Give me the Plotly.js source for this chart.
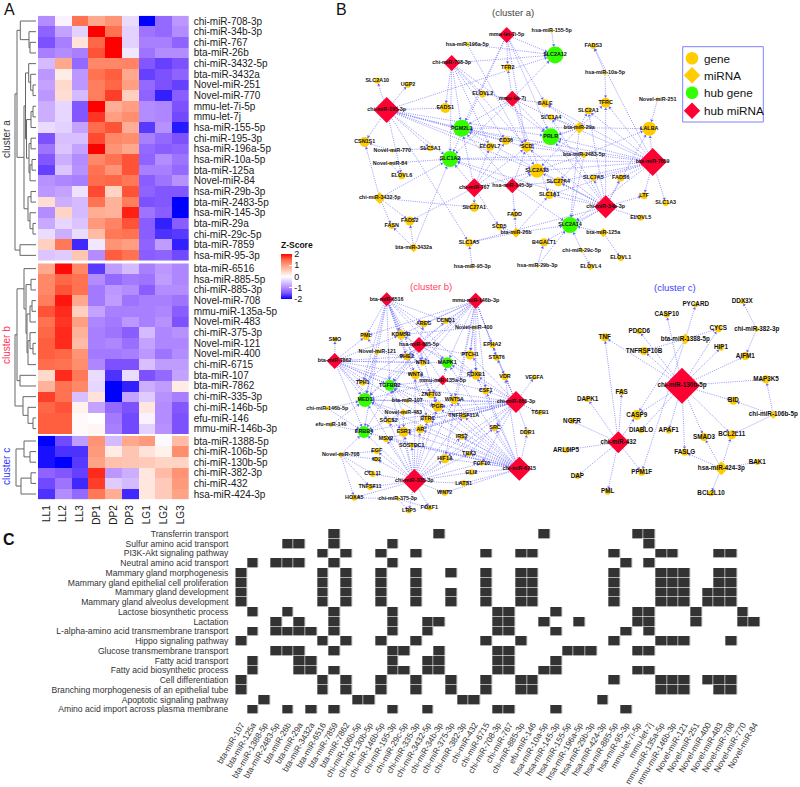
<!DOCTYPE html>
<html><head><meta charset="utf-8">
<script src="https://cdn.plot.ly/plotly-3.0.1.min.js"></script>
<style>html,body{margin:0;padding:0;background:#fff}#c{width:800px;height:787px}</style></head>
<body><div id="c"></div>
<script>
// ---------- Panel A data ----------
const samples=["LL1","LL2","LL3","DP1","DP2","DP3","LG1","LG2","LG3"];
const rowsA=["chi-miR-708-3p","chi-miR-34b-3p","chi-miR-767","bta-miR-26b","chi-miR-3432-5p","bta-miR-3432a","Novel-miR-251","Novel-miR-770","mmu-let-7i-5p","mmu-let-7j","hsa-miR-155-5p","chi-miR-195-3p","hsa-miR-196a-5p","hsa-miR-10a-5p","bta-miR-125a","Novel-miR-84","hsa-miR-29b-3p","bta-miR-2483-5p","hsa-miR-145-3p","bta-miR-29a","chi-miR-29c-5p","bta-miR-7859","hsa-miR-95-3p"];
const valuesA=[
[-1,-.1,1.4,.9,1.1,-.3,-2,-1.3,-.9],[-1.35,-.8,-.4,2,1.4,-.4,-1.2,-1.3,-1],[-1.5,-1.1,.3,1.5,2,-.4,-1.1,-1.1,-1.35],[-1.1,-1,-1.1,1.6,2,-.2,-1.2,-1,-1],
[-.6,.9,-1.3,1.2,1.2,1.25,-1.45,-1.6,-1.5],[-.9,.2,-.9,1.4,1.55,.9,-1.6,-1.5,-1.35],[-.8,.4,-.9,1.3,1.5,1,-1.3,-1.5,-1.6],[-.9,.35,-.6,1.3,1.7,.5,-1.35,-1.8,-1.4],
[-.7,-.35,-1.45,2,.85,1,-1,-1.05,-1.5],[-.7,-.35,-1.45,1.75,1,1.15,-1,-1.05,-1.55],[-.3,-.4,-.8,1.45,1.6,.85,-1.65,-.95,-1.85],[-1.5,-.55,-.55,1.65,1.2,1.15,-1.1,-1.3,-1.5],
[-1.2,-.5,-.8,2,1.1,.9,-1.3,-1.4,-1.35],[-1.45,-.7,-1,1.2,1.4,1.6,-1.35,-1,-1.2],[-1.6,-.5,-.95,1.4,1.1,1.6,-1.1,-1.1,-1.3],[-.95,-1.05,-1.1,1.45,1.5,1.35,-1.4,-1.2,-.95],
[-.9,-.8,-.25,1.65,.45,1.6,-1.35,-1.45,-1.45],[.35,-.7,-.6,1.4,.8,1.3,-1.5,-1.45,-2],[-1,.45,-.6,.85,.8,1.85,-1.2,-1.4,-2],[-.75,-.35,-.5,1.05,1.25,1.6,-1.4,-1.8,-1.4],
[-.3,-.7,-.3,.7,1.35,1.4,-1.4,-1.7,-1.65],[.5,1.35,-1.75,-.2,1.1,1,-1.35,-.85,-1.8],[-.5,-.45,.6,-1,1.55,1.4,-1.4,-1.35,-1.55]];
const rowsB=["bta-miR-6516","hsa-miR-885-5p","chi-miR-885-3p","Novel-miR-708","mmu-miR-135a-5p","Novel-miR-483","chi-miR-375-3p","Novel-miR-121","Novel-miR-400","chi-miR-6715","bta-miR-107","bta-miR-7862","chi-miR-335-3p","chi-miR-146b-5p","efu-miR-146","mmu-miR-146b-3p"];
const valuesB=[
[.9,1.95,1.2,-1.65,-.85,-.6,-1.1,-.9,-1.05],[1.2,1.5,1.4,-1,-1.3,-1.15,-1.2,-.85,-1.05],[1.2,1.6,1.4,-1.15,-.9,-1,-1.4,-1,-1],[1.3,1.9,.9,-1.15,-.85,-1.2,-1.1,-1.1,-1.2],
[1.6,1.8,.5,-.8,-1.1,-1.1,-1.1,-1.05,-1.4],[1.4,1.75,1,-1.05,-1.15,-.9,-1.1,-.95,-1.5],[1.5,1.8,.8,-1.1,-1.2,-1.4,-.6,-1.05,-.95],[1.55,1.8,.7,-1.1,-1.05,-1.25,-.8,-1.05,-1.05],
[1.55,1.5,1.1,-1.15,-1.15,-1.1,-.9,-1.2,-1],[1.45,1.4,1.15,-1.05,-1.5,-1.5,-.55,-.85,-.85],[.4,1.8,1.35,-.3,-1.7,-.3,-1.5,-1.3,-.8],[.8,1.4,1.2,-.35,-2,-1.8,-.7,-.85,.2],
[1.7,1.4,-.55,.3,-2,-.8,-.45,-.95,-1.1],[1.5,1.6,.15,-.8,-1.3,-1.5,.25,-1,-1.45],[1.55,1.55,.05,0,-1.15,-1.55,-.1,-1,-1.5],[1.55,1.55,.05,.1,-1.1,-1.55,-.4,-.95,-1.5]];
const rowsC=["bta-miR-1388-5p","chi-miR-106b-5p","chi-miR-130b-5p","chi-miR-382-3p","chi-miR-432","hsa-miR-424-3p"];
const valuesC=[
[-2,-1.55,-.85,1.1,-.6,.9,1.05,-.05,.7],[-1.9,-1.7,-1.7,1.05,.2,.6,.3,.15,1.15],[-1.9,-2,-1.65,.95,.65,.6,.55,.45,.45],
[-1.35,-1.45,-1.6,1.8,-.9,-.7,.25,.7,1.1],[-1.55,-1.2,-1.75,1.7,-.45,-.6,.25,.55,1.05],[-1.7,-1,-1.3,1.35,.85,-1.75,.25,.55,.95]];
// dendrograms: [height, child, child], a bare number is a heatmap row
const treeA=[15,[17,[20.3,0,[29,1,[30,2,3]]],[24,[25.5,[28.7,4,[30.7,5,[33,6,7]]],[26.5,[31,[33,8,9],10],[29,[31,11,12],[30,[32,13,14],15]]]],[28,[31,16,17],[30,18,[33,19,20]]]]],[20,21,22]];
const treeB=[15,[17,[24,0,[26,[31,1,2],[27,[30,[32,3,4],5],[28,[30,6,[33,7,8]],9]]]],[20,10,11]],[23,12,[28,13,[33,14,15]]]];
const treeC=[16,[24,0,[30,1,2]],[21,[31,3,4],5]];
const zScale=[[0,"#0000ff"],[.125,"#7E51FF"],[.25,"#B38CFF"],[.375,"#DCC5FF"],[.5,"#ffffff"],[.625,"#FFCFBF"],[.75,"#FF9E81"],[.875,"#FF6846"],[1,"#ff0000"]];

// ---------- Panel B data: [name, x, y, radius, role] ----------
const nodesClusterA=[
["chi-miR-195-3p",386.7,110,13,"M"],["chi-miR-708-3p",451.7,63,8,"M"],["mmu-let-7i-5p",506.7,35,8,"M"],["mmu-let-7j",512.3,98.7,8,"M"],["chi-miR-767",474.3,187.7,9.5,"M"],["hsa-miR-145-3p",512.3,185.7,7.5,"M"],["bta-miR-7859",652.7,162,14,"M"],["chi-miR-34b-3p",605.7,206.7,11.5,"M"],
["SLC2A12",555,55,8.5,"G"],["PGM2L1",461.7,128.3,8.5,"G"],["PRLR",550.7,136.7,8.5,"G"],["SLC1A2",450,159,8,"G"],["SLC2A14",570,225,8,"G"],
["FADS3",593.3,46,3,"g"],["TFRC",605.7,102.7,5,"g"],["LALBA",649.3,128.7,7,"g"],["SLC2A1",588.3,110.7,3.5,"g"],["SLC1A3",665.7,203,3,"g"],["SLC7A5",593.3,178,3,"g"],["FADS6",620.7,178,3.5,"g"],["LTF",644,195.7,3.5,"g"],["ELOVL5",640.7,217.7,3,"g"],["ELOVL1",620.7,258,3,"g"],["ELOVL4",590.7,266.7,3,"g"],["TFR2",507.7,67.3,3.5,"g"],["ELOVL2",482.7,94,3.5,"g"],["GALE",545,103.3,4,"g"],["SLC1A4",551,117.3,3,"g"],["FADS1",445.3,108,5,"g"],["SLC2A10",377.3,80.7,3,"g"],["UGP2",408,84.7,3,"g"],["CSN1S1",364.7,142,5,"g"],["SLC5A1",430.3,148.3,3,"g"],["ELOVL7",490,146.7,4,"g"],["CD36",506,140.7,4,"g"],["SCD",526.7,147,5,"g"],["SLC2A13",537,170.7,7,"g"],["SLC27A4",558.3,181.7,4.5,"g"],["SLC1A1",549.3,195,4,"g"],["FADD",514.7,214.3,3,"g"],["SLC27A1",474.3,207.3,4.5,"g"],["SCD5",499.3,226.7,3,"g"],["B4GALT1",544,242.3,4,"g"],["SLC1A5",469,242.7,4,"g"],["FASN",391.7,226,3,"g"],["FADS2",409.7,221,4.5,"g"],["ELOVL6",401.7,175.7,3.5,"g"],
["hsa-miR-155-5p",551.7,31,2,"m"],["hsa-miR-196a-5p",467.3,44.3,2.5,"m"],["hsa-miR-10a-5p",605,72.7,2.5,"m"],["Novel-miR-251",657.7,99.3,2,"m"],["Novel-miR-770",392.3,150.7,2,"m"],["Novel-miR-84",390,163.3,2,"m"],["bta-miR-29a",579.3,127.7,6,"m"],["bta-miR-2483-5p",584,155,3.5,"m"],["chi-miR-3432-5p",379.7,198,6,"m"],["bta-miR-3432a",413.7,247.7,4.5,"m"],["bta-miR-26b",516,232.7,5,"m"],["bta-miR-125a",603.3,232.7,4.5,"m"],["chi-miR-29c-5p",581.7,250.3,2.5,"m"],["hsa-miR-29b-3p",537.3,266,2,"m"],["hsa-miR-95-3p",472.3,266.7,2,"m"]];
const edgesClusterA=[
["chi-miR-195-3p",["SLC2A10","UGP2","FADS1","CSN1S1","SLC2A12","PGM2L1","PRLR","SLC5A1","SLC1A2","ELOVL7","CD36","SCD","SLC2A13","SLC1A5","ELOVL6"]],
["chi-miR-708-3p",["SLC2A12","FADS1","PGM2L1","ELOVL2","SLC1A2","CD36","SCD","ELOVL7","PRLR"]],
["mmu-let-7i-5p",["TFR2","GALE","SLC2A12","PGM2L1","PRLR","SLC1A2","SCD"]],
["mmu-let-7j",["TFR2","SLC2A12","ELOVL2","GALE","SLC1A4","PRLR","SCD","PGM2L1","SLC1A2","SLC1A1"]],
["chi-miR-767",["PGM2L1","SLC1A2","SLC27A1","SCD5","ELOVL7","FADS2","CD36","SCD","SLC2A13"]],
["hsa-miR-145-3p",["SLC1A2","SLC2A13","FADD","SLC2A14","SLC27A4","SCD","PGM2L1"]],
["bta-miR-7859",["LALBA","TFRC","LTF","SLC1A3","FADS6","SLC2A1","SLC7A5","PRLR","GALE","SLC2A13","SLC27A4","SLC1A1","SLC2A14","SLC1A2","FADS3","SCD","PGM2L1","SLC1A4"]],
["chi-miR-34b-3p",["TFRC","LALBA","FADS6","ELOVL5","LTF","SLC7A5","SLC27A4","SLC2A13","PRLR","SLC1A2","SLC2A14","SCD","SLC1A1","PGM2L1","B4GALT1","SLC1A4","SLC2A1","SLC1A5"]],
["hsa-miR-155-5p",["SLC2A12"]],["hsa-miR-196a-5p",["SLC2A12","SLC2A13"]],["hsa-miR-10a-5p",["FADS3","TFRC"]],["Novel-miR-251",["LALBA"]],["Novel-miR-770",["CSN1S1","SLC5A1"]],["Novel-miR-84",["ELOVL6","SLC1A2"]],
["bta-miR-29a",["PRLR","SLC2A1","SLC1A4","GALE","TFRC","LALBA","PGM2L1","SLC2A13","SLC2A14","SCD"]],
["bta-miR-2483-5p",["SLC2A13","PRLR","PGM2L1","SLC1A2","SLC27A4","LALBA","SLC2A14"]],
["chi-miR-3432-5p",["FADS2","FASN","SLC27A1","CSN1S1","SLC1A2"]],["bta-miR-3432a",["FASN","FADS2","SLC1A2"]],
["bta-miR-26b",["SCD5","SLC1A1","SLC2A14","FADD","SLC1A5"]],["bta-miR-125a",["ELOVL1","SLC2A14"]],["chi-miR-29c-5p",["ELOVL4","SLC2A14"]],["hsa-miR-29b-3p",["SLC2A14","B4GALT1"]],["hsa-miR-95-3p",["SLC1A5"]]];

const nodesClusterB=[
["bta-miR-6516",386.7,299.3,7,"M"],["mmu-miR-146b-3p",475.7,300.7,8,"M"],["bta-miR-7862",334.7,361,8,"M"],["hsa-miR-885-5p",419,345,8,"M"],["mmu-miR-135a-5p",442.7,380.3,5,"M"],["chi-miR-885-3p",516,402,11,"M"],["chi-miR-6715",519.3,468.7,12,"M"],["chi-miR-335-3p",414.3,481,12,"M"],
["MAPK1",447.3,362.7,5.5,"G"],["TGFBR2",389.7,385.3,5.5,"G"],["MED1",365,400,7,"G"],["ERBB4",364,432,6,"G"],
["AREG",423.7,323.7,3.5,"g"],["CCND1",445.7,321,3,"g"],["KDM5B",401,334.7,4.5,"g"],["SMO",335,339.3,2.5,"g"],["PML",366,336,4,"g"],["PHB2",406.7,356.7,3.5,"g"],["NTN1",422.7,362.7,3,"g"],["EPHA2",492.3,345,3,"g"],["STAT6",496.7,357.7,3,"g"],["PTCH1",470,355,4.5,"g"],["FOXB1",476,375,4.5,"g"],["VDR",505,376.7,3.5,"g"],["VEGFA",534.3,377.3,2.5,"g"],["WNT4",415.3,374.7,4.5,"g"],["TPH1",362.7,382.7,3,"g"],["CSF1",485.7,390.7,3.5,"g"],["ZNF703",431,394.7,3.5,"g"],["WNT5A",454.3,400,4,"g"],["PGR",437.7,406.7,5,"g"],["BTRC",427.7,419,4,"g"],["TNFRSF11A",463.7,416,3,"g"],["TGFB1",540,412.7,2.5,"g"],["SOCS2",388.7,420.7,3,"g"],["AR",420.3,429.3,4,"g"],["ESR1",403.7,432,5,"g"],["SRC",495,428,3,"g"],["DDR1",527.3,432.3,3,"g"],["IRS2",461.7,436.7,3,"g"],["MSX2",386,439,3,"g"],["SOSTDC1",411.7,445.3,2.5,"g"],["EGF",376.7,451,3,"g"],["ID2",376.7,459.3,2.5,"g"],["TBX3",469,454,2.5,"g"],["HIF1A",445,458.7,4.5,"g"],["FGF10",481.7,463.3,2.5,"g"],["GLI2",471.3,472.3,3,"g"],["CCL11",372.7,474,3,"g"],["LATS1",463.7,483.3,3,"g"],["TNFSF11",370,487,3,"g"],["WNT2",444.7,492.7,3,"g"],["HOXA5",354.3,497.7,3,"g"],["LRP5",409,511,2.5,"g"],["FOXF1",429.3,508,2.5,"g"],
["Novel-miR-400",473.7,327.7,2,"m"],["Novel-miR-121",377.3,352,3,"m"],["chi-miR-146b-5p",327.3,408.3,2.5,"m"],["efu-miR-146",331,425,2.5,"m"],["bta-miR-107",407.3,401,2.5,"m"],["Novel-miR-483",403.3,412.3,3.5,"m"],["Novel-miR-708",340.7,454.7,3,"m"],["chi-miR-375-3p",397.7,498.7,2.5,"m"]];
const edgesClusterB=[
["bta-miR-6516",["KDM5B","PML","AREG","TPH1","MED1","TGFBR2","NTN1","PHB2","WNT4","MAPK1","ZNF703","ERBB4","FOXB1","BTRC","PGR","CCND1"]],
["mmu-miR-146b-3p",["CCND1","AREG","KDM5B","PTCH1","EPHA2","VDR","STAT6","FOXB1","MAPK1","NTN1","PML","MED1","TGFBR2","WNT5A","CSF1","HIF1A","TPH1"]],
["bta-miR-7862",["SMO","PML","PHB2","KDM5B","TPH1","MED1","ERBB4","TGFBR2","WNT4","NTN1","MAPK1","BTRC","ESR1","PGR","ZNF703","SOCS2"]],
["hsa-miR-885-5p",["KDM5B","AREG","CCND1","PHB2","NTN1","MAPK1","TGFBR2","MED1","PTCH1","FOXB1","WNT5A","PGR","ERBB4"]],
["mmu-miR-135a-5p",["MAPK1","TGFBR2","MED1","FOXB1","CSF1","WNT4","ZNF703"]],
["chi-miR-885-3p",["VDR","VEGFA","TGFB1","DDR1","SRC","STAT6","EPHA2","PTCH1","FOXB1","CSF1","WNT5A","TNFRSF11A","MAPK1","TGFBR2","MED1","ERBB4","PGR","IRS2","HIF1A","AR","ESR1","BTRC","TBX3","FGF10","MSX2","SOCS2"]],
["chi-miR-6715",["DDR1","SRC","VDR","CSF1","WNT5A","TNFRSF11A","IRS2","TBX3","FGF10","GLI2","LATS1","WNT2","HIF1A","PGR","AR","ESR1","BTRC","ERBB4","MED1","TGFBR2","MSX2","ZNF703","FOXB1","MAPK1","SOSTDC1"]],
["chi-miR-335-3p",["ERBB4","MED1","TGFBR2","ESR1","AR","MSX2","EGF","ID2","CCL11","TNFSF11","HOXA5","WNT2","LATS1","GLI2","FGF10","TBX3","HIF1A","IRS2","SRC","BTRC","PGR","WNT5A","SOSTDC1","LRP5","FOXF1","SOCS2","TNFRSF11A","WNT4"]],
["Novel-miR-400",["CCND1","PTCH1","FOXB1","KDM5B"]],["Novel-miR-121",["PML","MED1","PHB2","TPH1"]],["chi-miR-146b-5p",["MED1","ERBB4"]],["efu-miR-146",["MED1","ERBB4"]],["bta-miR-107",["TGFBR2","MED1","PGR"]],["Novel-miR-483",["TGFBR2","ESR1","ERBB4","MED1"]],["Novel-miR-708",["EGF","ID2","CCL11","TNFSF11","HOXA5","ERBB4"]],["chi-miR-375-3p",["HOXA5","LRP5","FOXF1"]]];

const nodesClusterC=[
["chi-miR-130b-5p",682,385.7,18,"M"],["chi-miR-432",618.3,442.3,11,"M"],
["PYCARD",695.7,304.7,2.5,"g"],["DDX3X",742.3,301.3,2.5,"g"],["CASP10",666.7,314.7,3,"g"],["PDCD6",639.3,331.3,3,"g"],["CYCS",718.3,328.7,3.5,"g"],["TNF",604.7,337.3,4,"g"],["TNFRSF10B",644,351,4,"g"],["HIP1",721,347.7,3,"g"],["AIFM1",745.3,356,4,"g"],["MAP3K5",766,379.3,4,"g"],["FAS",621.7,392,3,"g"],["DAPK1",587.7,399,3,"g"],["BID",733.3,400.7,4,"g"],["CASP9",636.7,415,5,"g"],["NGFR",572,421,3,"g"],["DIABLO",641,430.3,3,"g"],["APAF1",668.7,430.7,3,"g"],["BCL2L11",731.7,434.7,4.5,"g"],["SMAD3",704,437,4,"g"],["ARL6IP5",566,450,3,"g"],["FASLG",684.7,452.3,3.5,"g"],["PPM1F",641.7,472.3,3.5,"g"],["DAP",577.3,476,3,"g"],["PML",607.7,491.7,3,"g"],["BAK1",757.3,462,3,"g"],["BCL2L10",711,493.3,3,"g"],
["bta-miR-1388-5p",685.3,339,5.5,"m"],["chi-miR-382-3p",756.7,329.3,3,"m"],["chi-miR-106b-5p",773.3,414.7,4,"m"],["hsa-miR-424-3p",721.3,468.3,7,"m"]];
const edgesClusterC=[
["chi-miR-130b-5p",["CASP10","PDCD6","CYCS","TNF","TNFRSF10B","HIP1","AIFM1","MAP3K5","BID","BCL2L11","SMAD3","FASLG","APAF1","DIABLO","CASP9"]],
["chi-miR-432",["FAS","DAPK1","NGFR","ARL6IP5","DAP","PML","TNF","CASP9","PPM1F"]],
["bta-miR-1388-5p",["PYCARD","CYCS","TNFRSF10B","CASP9","PPM1F"]],["chi-miR-382-3p",["DDX3X","AIFM1"]],["chi-miR-106b-5p",["MAP3K5","BID","BCL2L11"]],["hsa-miR-424-3p",["BCL2L11","SMAD3","FASLG","BAK1","BCL2L10"]]];
const legendLabels=["gene","miRNA","hub gene","hub miRNA"];
const legendY=[58.3,75.3,92.7,110.7];

// ---------- Panel C data ----------
const pathways=["Transferrin transport","Sulfur amino acid transport","PI3K-Akt signaling pathway","Neutral amino acid transport","Mammary gland morphogenesis","Mammary gland epithelial cell proliferation","Mammary gland development","Mammary gland alveolus development","Lactose biosynthetic process","Lactation","L-alpha-amino acid transmembrane transport","Hippo signaling pathway","Glucose transmembrane transport","Fatty acid transport","Fatty acid biosynthetic process","Cell differentiation","Branching morphogenesis of an epithelial tube","Apoptotic signaling pathway","Amino acid import across plasma membrane"];
const mirnaColumns=["bta-miR-107","bta-miR-125a","bta-miR-1388-5p","bta-miR-2483-5p","bta-miR-26b","bta-miR-29a","bta-miR-3432a","bta-miR-6516","bta-miR-7859","bta-miR-7862","chi-miR-106b-5p","chi-miR-130b-5p","chi-miR-146b-5p","chi-miR-195-3p","chi-miR-29c-5p","chi-miR-335-3p","chi-miR-3432-5p","chi-miR-34b-3p","chi-miR-375-3p","chi-miR-382-3p","chi-miR-432","chi-miR-6715","chi-miR-708-3p","chi-miR-767","chi-miR-885-3p","efu-miR-146","hsa-miR-10a-5p","hsa-miR-145-3p","hsa-miR-155-5p","hsa-miR-196a-5p","hsa-miR-29b-3p","hsa-miR-424-3p","hsa-miR-885-5p","hsa-miR-95-3p","mmu-let-7i-5p","mmu-let-7j","mmu-miR-135a-5p","mmu-miR-146b-3p","Novel-miR-121","Novel-miR-251","Novel-miR-400","Novel-miR-483","Novel-miR-708","Novel-miR-770","Novel-miR-84"];
const pathwayHits=[
[8,17,26,34,35],[4,5,8,13,35],[7,9,12,15,21,24,25,32,36,37,41,42],[1,3,4,5,8,13,33,35],
[0,7,9,12,15,18,21,24,25,32,36,37,38,41,42],[0,7,9,12,15,21,24,25,32,36,37,38,41,42],[0,7,9,12,15,18,21,24,25,32,36,37,38,40,41,42],[0,7,9,12,15,18,21,24,25,32,36,37,38,40,41,42],
[1,4,8,13,22,23,27,34,35,39,43],[3,5,8,13,16,17,22,23,26,29,34,35,39,43,44],[1,3,4,5,6,8,13,16,22,23,27,33,35],[0,7,9,12,15,21,24,32,36,37,38,42],
[3,4,5,8,13,14,17,22,23,28,29,30,34,35],[1,5,6,13,16,17,22,23,27],[1,5,6,8,13,14,16,17,22,23,26,27,34,35],[0,7,9,12,15,18,21,24,25,32,36,37,38,40,41,42],
[0,7,9,12,15,18,21,24,25,36,37,38,41,42],[2,10,11,19,20,31],[1,4,6,8,13,16,22,23,27,33]];

// ---------- Build ----------
const W=800,H=787,FONT="Liberation Sans, Arial, sans-serif";
const fx=p=>p/W, fy=p=>(H-p)/H;
const traces=[];
const heat=(z,ya,extra)=>Object.assign({type:"heatmap",z,xaxis:"x2",yaxis:ya,x:samples.map((_,i)=>i),y:z.map((_,i)=>i),colorscale:zScale,zmin:-2,zmax:2,showscale:false,hoverinfo:"skip"},extra||{});
traces.push(heat(valuesA,"y2",{showscale:true,colorbar:{x:fx(281),xanchor:"left",y:fy(299),yanchor:"bottom",len:60,lenmode:"pixels",thickness:10.5,thicknessmode:"pixels",xpad:0,ypad:0,outlinewidth:0,ticks:"inside",ticklen:3,tickcolor:"#fff",tickvals:[-2,-1,0,1,2],ticktext:["-2","-1","0","1","2"],tickfont:{size:9,family:FONT,color:"#111"},title:{text:"<b>Z-Score</b>",side:"top",font:{size:8.5,family:FONT,color:"#111"}}}}));
traces.push(heat(valuesB,"y3"));
traces.push(heat(valuesC,"y4"));
function dendro(tree,ya){
  const xs=[],ys=[];
  (function walk(n){
    if(typeof n==="number")return{x:36,y:n};
    const a=walk(n[1]),b=walk(n[2]);
    xs.push(a.x,n[0],n[0],b.x,null);ys.push(a.y,a.y,b.y,b.y,null);
    return{x:n[0],y:(a.y+b.y)/2};
  })(tree);
  traces.push({type:"scatter",mode:"lines",x:xs,y:ys,xaxis:"x",yaxis:ya,line:{color:"#666",width:1},hoverinfo:"skip",showlegend:false});
}
dendro(treeA,"y2");dendro(treeB,"y3");dendro(treeC,"y4");

// network
const clusters=[[nodesClusterA,edgesClusterA,5.4],[nodesClusterB,edgesClusterB,5.4],[nodesClusterC,edgesClusterC,6.3]];
const lx=[],ly=[],ax=[],ay=[],aang=[];
clusters.forEach(([nodes,edges])=>{
  const pos={};nodes.forEach(n=>pos[n[0]]=n);
  edges.forEach(([s,ts])=>ts.forEach(t=>{
    const a=pos[s],b=pos[t];if(!a||!b)return;
    lx.push(a[1],b[1],null);ly.push(a[2],b[2],null);
    const dx=b[1]-a[1],dy=b[2]-a[2],L=Math.hypot(dx,dy),r=b[3]+1.5;
    ax.push(b[1]-dx/L*r);ay.push(b[2]-dy/L*r);aang.push(Math.atan2(dx,-dy)*180/Math.PI);
  }));
});
traces.push({type:"scatter",mode:"lines",x:lx,y:ly,xaxis:"x",yaxis:"y",line:{color:"#7a7aff",width:.8,dash:"1px,1.2px"},hoverinfo:"skip",showlegend:false});
traces.push({type:"scatter",mode:"markers",x:ax,y:ay,xaxis:"x",yaxis:"y",marker:{symbol:"triangle-up",size:3,color:"#6060ff",opacity:1,angle:aang,line:{width:0}},hoverinfo:"skip",showlegend:false});
const roles=[["g","circle","#FFCC00"],["m","diamond","#FFCC00"],["G","circle","#33FF00"],["M","diamond","#FF0033"]];
roles.forEach(([code,sym,col])=>{
  const all=[];clusters.forEach(c=>c[0].forEach(n=>{if(n[4]===code)all.push([n,c[2]]);}));
  traces.push({type:"scatter",mode:"markers+text",xaxis:"x",yaxis:"y",showlegend:false,
    x:all.map(a=>a[0][1]),y:all.map(a=>a[0][2]),text:all.map(a=>"<b>"+a[0][0]+"</b>"),textposition:"middle center",
    textfont:{family:FONT,size:all.map(a=>a[1]),color:"#111"},
    marker:{symbol:sym,color:col,opacity:1,line:{width:0},size:all.map(a=>sym==="diamond"?a[0][3]/.65:a[0][3]*2)},hoverinfo:"skip"});
});
// key of the network
traces.push({type:"scatter",mode:"markers",xaxis:"x",yaxis:"y",showlegend:false,x:legendLabels.map(()=>692),y:legendY,
  marker:{symbol:roles.map(r=>r[1]),color:roles.map(r=>r[2]),opacity:1,size:12.6,line:{width:0}},hoverinfo:"skip"});

// panel C
const hitMatrix=pathways.map((_,r)=>mirnaColumns.map((_,c)=>pathwayHits[r].includes(c)?1:0));
traces.push({type:"heatmap",z:hitMatrix,x:mirnaColumns.map((_,i)=>i),y:pathways.map((_,i)=>i),xaxis:"x3",yaxis:"y5",colorscale:[[0,"#ffffff"],[1,"#333333"]],zmin:0,zmax:1,showscale:false,xgap:.6,ygap:.6,hoverinfo:"skip"});

const hidden={visible:false,showgrid:false,zeroline:false};
const heatY=(names,top,bot)=>({domain:[fy(bot),fy(top)],range:[names.length-.5,-.5],side:"right",tickmode:"array",tickvals:names.map((_,i)=>i),ticktext:names,ticks:"",ticklen:0,ticklabelstandoff:4,tickfont:{size:10,family:FONT,color:"#1a1a1a"},showgrid:false,zeroline:false,showline:false,anchor:"x2"});
const note=(text,x,y,size,color,ang)=>({text,x,y,xref:"x",yref:"y",showarrow:false,textangle:ang||0,xanchor:"center",yanchor:"middle",font:{size,color,family:FONT}});
const legendNotes=legendLabels.map((t,i)=>({text:t,x:702.7,y:legendY[i],xref:"x",yref:"y",showarrow:false,xanchor:"left",yanchor:"middle",xshift:-1,font:{size:11.7,color:"#111",family:FONT}}));
const layout={width:W,height:H,margin:{l:0,r:0,t:0,b:0},paper_bgcolor:"#fff",plot_bgcolor:"rgba(0,0,0,0)",font:{family:FONT},
  xaxis:Object.assign({domain:[0,1],range:[0,W]},hidden),
  yaxis:Object.assign({domain:[0,1],range:[H,0]},hidden),
  xaxis2:{domain:[fx(38),fx(188.7)],anchor:"y4",range:[-.5,8.5],tickmode:"array",tickvals:samples.map((_,i)=>i),ticktext:samples,tickangle:-90,ticks:"",ticklabelstandoff:3,tickfont:{size:10,family:FONT,color:"#1a1a1a"},showgrid:false,zeroline:false,showline:false},
  yaxis2:heatY(rowsA,15.7,260.7),yaxis3:heatY(rowsB,263.3,434),yaxis4:heatY(rowsC,435.7,499.3),
  xaxis3:{domain:[fx(235.3),fx(760.3)],anchor:"y5",range:[-.5,44.5],tickmode:"array",tickvals:mirnaColumns.map((_,i)=>i),ticktext:mirnaColumns,tickangle:-60,ticks:"",ticklabelstandoff:3,tickfont:{size:8.4,family:FONT,color:"#333"},showgrid:false,zeroline:false,showline:false},
  yaxis5:{domain:[fy(714.3),fy(529)],anchor:"x3",range:[18.5,-.5],tickmode:"array",tickvals:pathways.map((_,i)=>i),ticktext:pathways,ticks:"",ticklabelstandoff:6,tickfont:{size:8.6,family:FONT,color:"#333"},showgrid:false,zeroline:false,showline:false},
  showlegend:false,
  shapes:[{type:"rect",xref:"x",yref:"y",x0:682.7,x1:763.3,y0:46.7,y1:122,line:{color:"#8080ff",width:1},fillcolor:"rgba(0,0,0,0)"}],
  annotations:[
    note("A",9,9,16,"#111"),note("B",341,9,16,"#111"),note("<b>C</b>",9,539,16,"#111"),
    note("cluster a",6,139,10,"#333",-90),note("cluster b",6,345,10,"#ff3355",-90),note("cluster c",6,467,10,"#3333ff",-90),
    note("(cluster a)",513,12,9.5,"#444"),note("(cluster b)",431,286,9.5,"#ff4060"),note("(cluster c)",675,287,9.5,"#4040ff")
  ].concat(legendNotes)};
Plotly.newPlot("c",traces,layout,{displayModeBar:false,staticPlot:true});
</script></body></html>
